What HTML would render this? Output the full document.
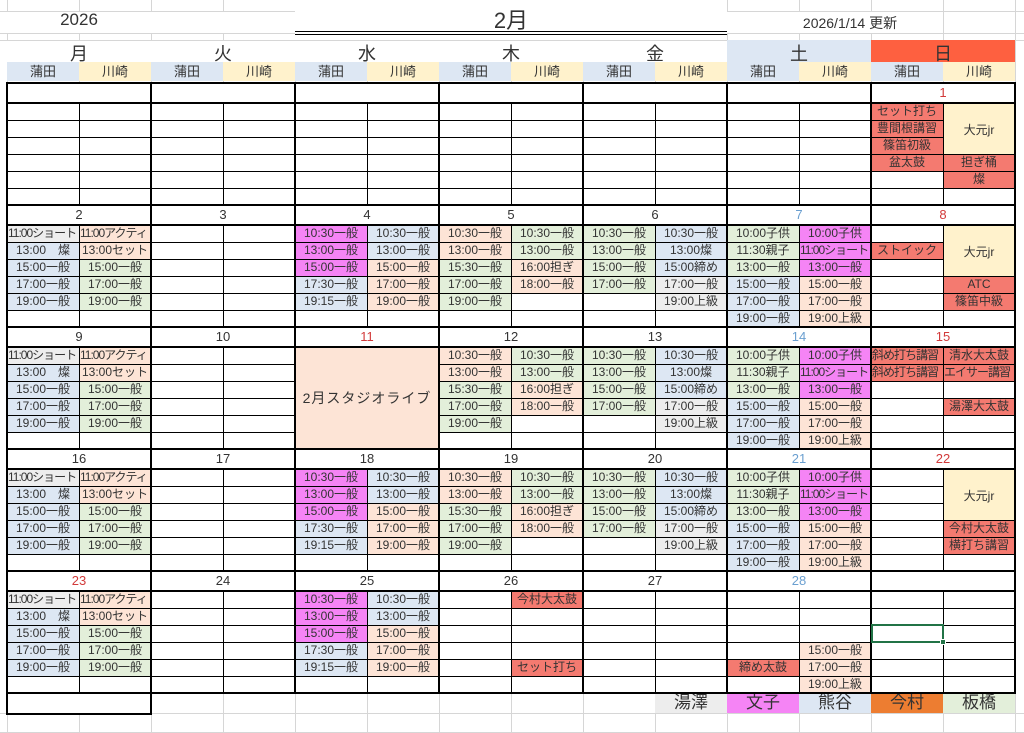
<!DOCTYPE html>
<html><head><meta charset="utf-8"><style>
*{margin:0;padding:0;box-sizing:border-box}
body{width:1024px;height:733px;position:relative;overflow:hidden;background:#fff;font-family:"Liberation Sans","Noto Sans CJK JP",sans-serif;color:#333}
.gl{position:absolute;left:0;top:0;width:1024px;height:733px;background:repeating-linear-gradient(to right,#d6d6d6 0 1px,transparent 1px 72px);background-position:7px 0}
.h{position:absolute;left:0;width:1024px;height:1px;background:#d6d6d6}
.c{position:absolute;width:72px;height:17px;font-size:12px;line-height:17px;text-align:center;white-space:nowrap;overflow:hidden;color:#333}
.s{font-size:12px;letter-spacing:-1px;text-align:left;padding-left:1px}
.G{background:#ededed}.M{background:#f584f5}.B{background:#dde7f3}.P{background:#fde4d6}.N{background:#e3efda}.R{background:#f47a70}.Y{background:#fff2cc}
.d{position:absolute;width:146px;height:124px;border:2px solid #000;z-index:2;font-size:13px;line-height:18px;text-align:center;color:#333;
background:linear-gradient(#000,#000) 0 18px/100% 2px no-repeat,linear-gradient(#000,#000) 71px 20px/1px 100% no-repeat,repeating-linear-gradient(to bottom,transparent 0 16px,#000 16px 17px) 0 20px/100% 85px no-repeat}
.red{color:#d23a3a}.blu{color:#6a9fd0}
.m{position:absolute;z-index:3;display:flex;align-items:center;justify-content:center;font-size:12px;color:#333}
.hd{position:absolute;text-align:center}
</style></head><body>
<div class="gl"></div>
<div class="h" style="top:11px"></div><div class="h" style="top:33px"></div><div class="h" style="top:40px"></div><div class="h" style="top:713px"></div><div class="h" style="top:732px"></div>
<div style="position:absolute;left:151px;top:12px;width:144px;height:21px;background:#fff"></div>
<div style="position:absolute;left:295px;top:0;width:432px;height:40px;background:#fff"></div>
<div style="position:absolute;left:7px;top:12px;width:144px;height:21px;background:#fff"></div>
<div style="position:absolute;left:727px;top:12px;width:216px;height:21px;background:#fff"></div>
<div class="hd" style="left:7px;top:10px;width:144px;font-size:17px">2026</div>
<div class="hd" style="left:295px;top:3px;width:432px;font-size:22px">2月</div>
<div style="position:absolute;left:295px;top:31px;width:432px;height:4px;border-top:1px solid #000;border-bottom:1px solid #000"></div>
<div class="hd" style="left:780px;top:13px;width:140px;font-size:14px">2026/1/14 更新</div>
<div style="position:absolute;left:727px;top:40px;width:144px;height:22px;background:#dde7f3"></div>
<div style="position:absolute;left:871px;top:40px;width:144px;height:22px;background:#fe6040"></div>
<div style="position:absolute;left:7px;top:41px;width:720px;height:21px;background:#fff"></div>
<div class="hd" style="left:7px;top:40px;width:144px;font-size:18px">月</div>
<div class="hd" style="left:151px;top:40px;width:144px;font-size:18px">火</div>
<div class="hd" style="left:295px;top:40px;width:144px;font-size:18px">水</div>
<div class="hd" style="left:439px;top:40px;width:144px;font-size:18px">木</div>
<div class="hd" style="left:583px;top:40px;width:144px;font-size:18px">金</div>
<div class="hd" style="left:727px;top:40px;width:144px;font-size:18px">土</div>
<div class="hd" style="left:871px;top:40px;width:144px;font-size:18px">日</div>
<div style="position:absolute;left:7px;top:62px;width:1008px;height:19px;background:repeating-linear-gradient(to right,#dde7f3 0 72px,#fff2cc 72px 144px)"></div>
<div style="position:absolute;left:7px;top:62px;width:1008px;height:19px;display:flex;font-size:13px;line-height:19px">
<span style="width:72px;text-align:center">蒲田</span><span style="width:72px;text-align:center">川崎</span><span style="width:72px;text-align:center">蒲田</span><span style="width:72px;text-align:center">川崎</span><span style="width:72px;text-align:center">蒲田</span><span style="width:72px;text-align:center">川崎</span><span style="width:72px;text-align:center">蒲田</span><span style="width:72px;text-align:center">川崎</span><span style="width:72px;text-align:center">蒲田</span><span style="width:72px;text-align:center">川崎</span><span style="width:72px;text-align:center">蒲田</span><span style="width:72px;text-align:center">川崎</span><span style="width:72px;text-align:center">蒲田</span><span style="width:72px;text-align:center">川崎</span></div>
<div style="position:absolute;left:7px;top:82px;width:1008px;height:611px;background:#fff"></div>

<!-- Week1 -->
<div class="c R" style="left:871px;top:103px">セット打ち</div>
<div class="c R" style="left:871px;top:120px">豊間根講習</div>
<div class="c R" style="left:871px;top:137px">篠笛初級</div>
<div class="c R" style="left:871px;top:154px">盆太鼓</div><div class="c R" style="left:943px;top:154px">担ぎ桶</div>
<div class="c R" style="left:943px;top:171px">燦</div>

<!-- Week2 -->
<div class="c G s" style="left:7px;top:225px">11:00ショート</div><div class="c P s" style="left:79px;top:225px">11:00アクティ</div>
<div class="c B" style="left:7px;top:242px">13:00　燦</div><div class="c P" style="left:79px;top:242px">13:00セット</div>
<div class="c B" style="left:7px;top:259px">15:00一般</div><div class="c N" style="left:79px;top:259px">15:00一般</div>
<div class="c B" style="left:7px;top:276px">17:00一般</div><div class="c N" style="left:79px;top:276px">17:00一般</div>
<div class="c B" style="left:7px;top:293px">19:00一般</div><div class="c N" style="left:79px;top:293px">19:00一般</div>
<div class="c M" style="left:295px;top:225px">10:30一般</div><div class="c B" style="left:367px;top:225px">10:30一般</div>
<div class="c M" style="left:295px;top:242px">13:00一般</div><div class="c B" style="left:367px;top:242px">13:00一般</div>
<div class="c M" style="left:295px;top:259px">15:00一般</div><div class="c P" style="left:367px;top:259px">15:00一般</div>
<div class="c B" style="left:295px;top:276px">17:30一般</div><div class="c P" style="left:367px;top:276px">17:00一般</div>
<div class="c B" style="left:295px;top:293px">19:15一般</div><div class="c P" style="left:367px;top:293px">19:00一般</div>
<div class="c P" style="left:439px;top:225px">10:30一般</div><div class="c N" style="left:511px;top:225px">10:30一般</div>
<div class="c P" style="left:439px;top:242px">13:00一般</div><div class="c N" style="left:511px;top:242px">13:00一般</div>
<div class="c N" style="left:439px;top:259px">15:30一般</div><div class="c P" style="left:511px;top:259px">16:00担ぎ</div>
<div class="c N" style="left:439px;top:276px">17:00一般</div><div class="c P" style="left:511px;top:276px">18:00一般</div>
<div class="c N" style="left:439px;top:293px">19:00一般</div>
<div class="c N" style="left:583px;top:225px">10:30一般</div><div class="c B" style="left:655px;top:225px">10:30一般</div>
<div class="c N" style="left:583px;top:242px">13:00一般</div><div class="c B" style="left:655px;top:242px">13:00燦</div>
<div class="c N" style="left:583px;top:259px">15:00一般</div><div class="c B" style="left:655px;top:259px">15:00締め</div>
<div class="c N" style="left:583px;top:276px">17:00一般</div><div class="c G" style="left:655px;top:276px">17:00一般</div>
<div class="c G" style="left:655px;top:293px">19:00上級</div>
<div class="c N" style="left:727px;top:225px">10:00子供</div><div class="c M" style="left:799px;top:225px">10:00子供</div>
<div class="c N" style="left:727px;top:242px">11:30親子</div><div class="c M s" style="left:799px;top:242px">11:00ショート</div>
<div class="c N" style="left:727px;top:259px">13:00一般</div><div class="c M" style="left:799px;top:259px">13:00一般</div>
<div class="c B" style="left:727px;top:276px">15:00一般</div><div class="c P" style="left:799px;top:276px">15:00一般</div>
<div class="c B" style="left:727px;top:293px">17:00一般</div><div class="c P" style="left:799px;top:293px">17:00一般</div>
<div class="c B" style="left:727px;top:310px">19:00一般</div><div class="c P" style="left:799px;top:310px">19:00上級</div>
<div class="c R" style="left:871px;top:242px">ストイック</div>
<div class="c R" style="left:943px;top:276px">ATC</div>
<div class="c R" style="left:943px;top:293px">篠笛中級</div>

<!-- Week3 -->
<div class="c G s" style="left:7px;top:347px">11:00ショート</div><div class="c P s" style="left:79px;top:347px">11:00アクティ</div>
<div class="c B" style="left:7px;top:364px">13:00　燦</div><div class="c P" style="left:79px;top:364px">13:00セット</div>
<div class="c B" style="left:7px;top:381px">15:00一般</div><div class="c N" style="left:79px;top:381px">15:00一般</div>
<div class="c B" style="left:7px;top:398px">17:00一般</div><div class="c N" style="left:79px;top:398px">17:00一般</div>
<div class="c B" style="left:7px;top:415px">19:00一般</div><div class="c N" style="left:79px;top:415px">19:00一般</div>
<div class="c P" style="left:439px;top:347px">10:30一般</div><div class="c N" style="left:511px;top:347px">10:30一般</div>
<div class="c P" style="left:439px;top:364px">13:00一般</div><div class="c N" style="left:511px;top:364px">13:00一般</div>
<div class="c N" style="left:439px;top:381px">15:30一般</div><div class="c P" style="left:511px;top:381px">16:00担ぎ</div>
<div class="c N" style="left:439px;top:398px">17:00一般</div><div class="c P" style="left:511px;top:398px">18:00一般</div>
<div class="c N" style="left:439px;top:415px">19:00一般</div>
<div class="c N" style="left:583px;top:347px">10:30一般</div><div class="c B" style="left:655px;top:347px">10:30一般</div>
<div class="c N" style="left:583px;top:364px">13:00一般</div><div class="c B" style="left:655px;top:364px">13:00燦</div>
<div class="c N" style="left:583px;top:381px">15:00一般</div><div class="c B" style="left:655px;top:381px">15:00締め</div>
<div class="c N" style="left:583px;top:398px">17:00一般</div><div class="c G" style="left:655px;top:398px">17:00一般</div>
<div class="c G" style="left:655px;top:415px">19:00上級</div>
<div class="c N" style="left:727px;top:347px">10:00子供</div><div class="c M" style="left:799px;top:347px">10:00子供</div>
<div class="c N" style="left:727px;top:364px">11:30親子</div><div class="c M s" style="left:799px;top:364px">11:00ショート</div>
<div class="c N" style="left:727px;top:381px">13:00一般</div><div class="c M" style="left:799px;top:381px">13:00一般</div>
<div class="c B" style="left:727px;top:398px">15:00一般</div><div class="c P" style="left:799px;top:398px">15:00一般</div>
<div class="c B" style="left:727px;top:415px">17:00一般</div><div class="c P" style="left:799px;top:415px">17:00一般</div>
<div class="c B" style="left:727px;top:432px">19:00一般</div><div class="c P" style="left:799px;top:432px">19:00上級</div>
<div class="c R s" style="left:871px;top:347px">斜め打ち講習</div><div class="c R" style="left:943px;top:347px">清水大太鼓</div>
<div class="c R s" style="left:871px;top:364px">斜め打ち講習</div><div class="c R s" style="left:943px;top:364px">エイサー講習</div>
<div class="c R" style="left:943px;top:398px">湯澤大太鼓</div>

<!-- Week4 -->
<div class="c G s" style="left:7px;top:469px">11:00ショート</div><div class="c P s" style="left:79px;top:469px">11:00アクティ</div>
<div class="c B" style="left:7px;top:486px">13:00　燦</div><div class="c P" style="left:79px;top:486px">13:00セット</div>
<div class="c B" style="left:7px;top:503px">15:00一般</div><div class="c N" style="left:79px;top:503px">15:00一般</div>
<div class="c B" style="left:7px;top:520px">17:00一般</div><div class="c N" style="left:79px;top:520px">17:00一般</div>
<div class="c B" style="left:7px;top:537px">19:00一般</div><div class="c N" style="left:79px;top:537px">19:00一般</div>
<div class="c M" style="left:295px;top:469px">10:30一般</div><div class="c B" style="left:367px;top:469px">10:30一般</div>
<div class="c M" style="left:295px;top:486px">13:00一般</div><div class="c B" style="left:367px;top:486px">13:00一般</div>
<div class="c M" style="left:295px;top:503px">15:00一般</div><div class="c P" style="left:367px;top:503px">15:00一般</div>
<div class="c B" style="left:295px;top:520px">17:30一般</div><div class="c P" style="left:367px;top:520px">17:00一般</div>
<div class="c B" style="left:295px;top:537px">19:15一般</div><div class="c P" style="left:367px;top:537px">19:00一般</div>
<div class="c P" style="left:439px;top:469px">10:30一般</div><div class="c N" style="left:511px;top:469px">10:30一般</div>
<div class="c P" style="left:439px;top:486px">13:00一般</div><div class="c N" style="left:511px;top:486px">13:00一般</div>
<div class="c N" style="left:439px;top:503px">15:30一般</div><div class="c P" style="left:511px;top:503px">16:00担ぎ</div>
<div class="c N" style="left:439px;top:520px">17:00一般</div><div class="c P" style="left:511px;top:520px">18:00一般</div>
<div class="c N" style="left:439px;top:537px">19:00一般</div>
<div class="c N" style="left:583px;top:469px">10:30一般</div><div class="c B" style="left:655px;top:469px">10:30一般</div>
<div class="c N" style="left:583px;top:486px">13:00一般</div><div class="c B" style="left:655px;top:486px">13:00燦</div>
<div class="c N" style="left:583px;top:503px">15:00一般</div><div class="c B" style="left:655px;top:503px">15:00締め</div>
<div class="c N" style="left:583px;top:520px">17:00一般</div><div class="c G" style="left:655px;top:520px">17:00一般</div>
<div class="c G" style="left:655px;top:537px">19:00上級</div>
<div class="c N" style="left:727px;top:469px">10:00子供</div><div class="c M" style="left:799px;top:469px">10:00子供</div>
<div class="c N" style="left:727px;top:486px">11:30親子</div><div class="c M s" style="left:799px;top:486px">11:00ショート</div>
<div class="c N" style="left:727px;top:503px">13:00一般</div><div class="c M" style="left:799px;top:503px">13:00一般</div>
<div class="c B" style="left:727px;top:520px">15:00一般</div><div class="c P" style="left:799px;top:520px">15:00一般</div>
<div class="c B" style="left:727px;top:537px">17:00一般</div><div class="c P" style="left:799px;top:537px">17:00一般</div>
<div class="c B" style="left:727px;top:554px">19:00一般</div><div class="c P" style="left:799px;top:554px">19:00上級</div>
<div class="c R" style="left:943px;top:520px">今村大太鼓</div>
<div class="c R" style="left:943px;top:537px">横打ち講習</div>

<!-- Week5 -->
<div class="c G s" style="left:7px;top:591px">11:00ショート</div><div class="c P s" style="left:79px;top:591px">11:00アクティ</div>
<div class="c B" style="left:7px;top:608px">13:00　燦</div><div class="c P" style="left:79px;top:608px">13:00セット</div>
<div class="c B" style="left:7px;top:625px">15:00一般</div><div class="c N" style="left:79px;top:625px">15:00一般</div>
<div class="c B" style="left:7px;top:642px">17:00一般</div><div class="c N" style="left:79px;top:642px">17:00一般</div>
<div class="c B" style="left:7px;top:659px">19:00一般</div><div class="c N" style="left:79px;top:659px">19:00一般</div>
<div class="c M" style="left:295px;top:591px">10:30一般</div><div class="c B" style="left:367px;top:591px">10:30一般</div>
<div class="c M" style="left:295px;top:608px">13:00一般</div><div class="c B" style="left:367px;top:608px">13:00一般</div>
<div class="c M" style="left:295px;top:625px">15:00一般</div><div class="c P" style="left:367px;top:625px">15:00一般</div>
<div class="c B" style="left:295px;top:642px">17:30一般</div><div class="c P" style="left:367px;top:642px">17:00一般</div>
<div class="c B" style="left:295px;top:659px">19:15一般</div><div class="c P" style="left:367px;top:659px">19:00一般</div>
<div class="c R" style="left:511px;top:591px">今村大太鼓</div>
<div class="c R" style="left:511px;top:659px">セット打ち</div>
<div class="c P" style="left:799px;top:642px">15:00一般</div>
<div class="c R" style="left:727px;top:659px">締め太鼓</div><div class="c P" style="left:799px;top:659px">17:00一般</div>
<div class="c P" style="left:799px;top:676px">19:00上級</div>

<!-- Blocks -->
<div class="d" style="left:6px;top:82px"></div><div class="d" style="left:150px;top:82px"></div><div class="d" style="left:294px;top:82px"></div><div class="d" style="left:438px;top:82px"></div><div class="d" style="left:582px;top:82px"></div><div class="d" style="left:726px;top:82px"></div><div class="d red" style="left:870px;top:82px">1</div>
<div class="d" style="left:6px;top:204px">2</div><div class="d" style="left:150px;top:204px">3</div><div class="d" style="left:294px;top:204px">4</div><div class="d" style="left:438px;top:204px">5</div><div class="d" style="left:582px;top:204px">6</div><div class="d blu" style="left:726px;top:204px">7</div><div class="d red" style="left:870px;top:204px">8</div>
<div class="d" style="left:6px;top:326px">9</div><div class="d" style="left:150px;top:326px">10</div><div class="d red" style="left:294px;top:326px">11</div><div class="d" style="left:438px;top:326px">12</div><div class="d" style="left:582px;top:326px">13</div><div class="d blu" style="left:726px;top:326px">14</div><div class="d red" style="left:870px;top:326px">15</div>
<div class="d" style="left:6px;top:448px">16</div><div class="d" style="left:150px;top:448px">17</div><div class="d" style="left:294px;top:448px">18</div><div class="d" style="left:438px;top:448px">19</div><div class="d" style="left:582px;top:448px">20</div><div class="d blu" style="left:726px;top:448px">21</div><div class="d red" style="left:870px;top:448px">22</div>
<div class="d red" style="left:6px;top:570px">23</div><div class="d" style="left:150px;top:570px">24</div><div class="d" style="left:294px;top:570px">25</div><div class="d" style="left:438px;top:570px">26</div><div class="d" style="left:582px;top:570px">27</div><div class="d blu" style="left:726px;top:570px">28</div><div class="d" style="left:870px;top:570px"></div>

<!-- merged -->
<div class="m Y" style="left:944px;top:104px;width:70px;height:50px">大元jr</div>
<div class="m Y" style="left:944px;top:226px;width:70px;height:50px">大元jr</div>
<div class="m Y" style="left:944px;top:470px;width:70px;height:50px">大元jr</div>
<div class="m P" style="left:296px;top:348px;width:142px;height:100px;font-size:14px;letter-spacing:1px">2月スタジオライブ</div>

<!-- selection -->
<div style="position:absolute;left:871px;top:624px;width:73px;height:19px;border:2px solid #217346;z-index:4"></div>
<div style="position:absolute;left:940px;top:639px;width:6px;height:6px;background:#217346;border:1px solid #fff;z-index:5"></div>

<!-- bottom -->
<div style="position:absolute;left:6px;top:692px;width:146px;height:23px;border:2px solid #000;background:#fff"></div>
<div class="hd G" style="left:655px;top:693px;width:72px;height:20px;font-size:17px;line-height:20px">湯澤</div>
<div class="hd M" style="left:727px;top:693px;width:72px;height:20px;font-size:17px;line-height:20px">文子</div>
<div class="hd B" style="left:799px;top:693px;width:72px;height:20px;font-size:17px;line-height:20px">熊谷</div>
<div class="hd" style="left:871px;top:693px;width:72px;height:20px;font-size:17px;line-height:20px;background:#ed7d31">今村</div>
<div class="hd N" style="left:943px;top:693px;width:72px;height:20px;font-size:17px;line-height:20px">板橋</div>
</body></html>
